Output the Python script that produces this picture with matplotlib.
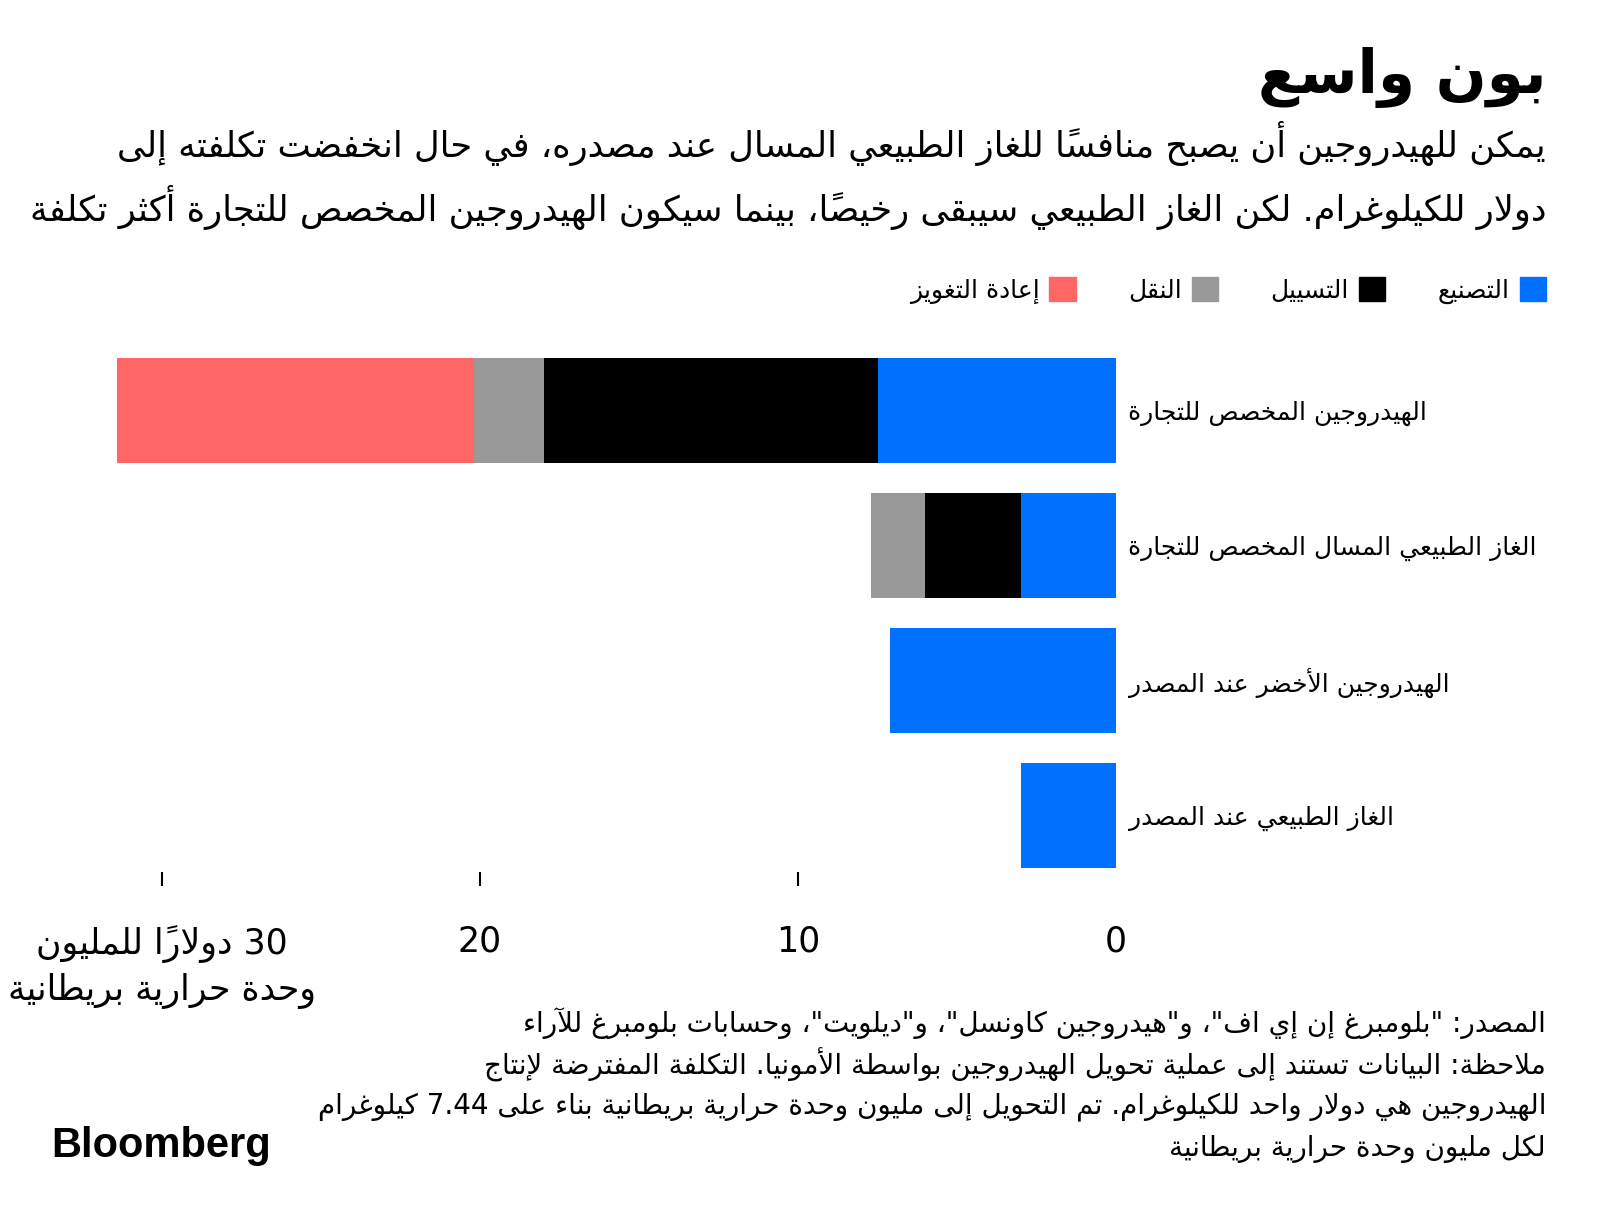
import re
import matplotlib
matplotlib.use('Agg')
import matplotlib.pyplot as plt
from matplotlib.patches import Patch

# --- data -------------------------------------------------------------
title = 'بون واسع'
subtitle = [
    'يمكن للهيدروجين أن يصبح منافساً للغاز الطبيعي المسال عند مصدره، في حال انخفضت تكلفته إلى',
    'دولار للكيلوغرام. لكن الغاز الطبيعي سيبقى رخيصاً، بينما سيكون الهيدروجين المخصص للتجارة أكثر تكلفة',
]
categories = [
    'الهيدروجين المخصص للتجارة',
    'الغاز الطبيعي المسال المخصص للتجارة',
    'الهيدروجين الأخضر عند المصدر',
    'الغاز الطبيعي عند المصدر',
]
stages = ['التصنيع', 'التسييل', 'النقل', 'إعادة التغويز']
production = [7.5, 3.0, 7.1, 3.0]
liquefaction = [10.5, 3.0, 0, 0]
shipping = [2.2, 1.7, 0, 0]
regasification = [11.2, 0, 0, 0]
stage_colors = ['#0070FF', '#000000', '#999999', '#FF6666']

tick_values = [0, 10, 20, 30]
tick_labels = ['0', '10', '20', ['30 دولاراً للمليون', 'وحدة حرارية بريطانية']]

footnote = [
    'المصدر: "بلومبرغ إن إي اف"، و"هيدروجين كاونسل"، و"ديلويت"، وحسابات بلومبرغ للآراء',
    'ملاحظة: البيانات تستند إلى عملية تحويل الهيدروجين بواسطة الأمونيا. التكلفة المفترضة لإنتاج',
    'الهيدروجين هي دولار واحد للكيلوغرام. تم التحويل إلى مليون وحدة حرارية بريطانية بناء على 7.44 كيلوغرام',
    'لكل مليون وحدة حرارية بريطانية',
]

# --- arabic shaping (matplotlib has no text shaping / bidi) -------------
# isolated presentation form and number of forms for each letter
FORMS = {
    '\u0621': (0xFE80, 1), '\u0622': (0xFE81, 2), '\u0623': (0xFE83, 2),
    '\u0624': (0xFE85, 2), '\u0625': (0xFE87, 2), '\u0626': (0xFE89, 4),
    '\u0627': (0xFE8D, 2), '\u0628': (0xFE8F, 4), '\u0629': (0xFE93, 2),
    '\u062A': (0xFE95, 4), '\u062B': (0xFE99, 4), '\u062C': (0xFE9D, 4),
    '\u062D': (0xFEA1, 4), '\u062E': (0xFEA5, 4), '\u062F': (0xFEA9, 2),
    '\u0630': (0xFEAB, 2), '\u0631': (0xFEAD, 2), '\u0632': (0xFEAF, 2),
    '\u0633': (0xFEB1, 4), '\u0634': (0xFEB5, 4), '\u0635': (0xFEB9, 4),
    '\u0636': (0xFEBD, 4), '\u0637': (0xFEC1, 4), '\u0638': (0xFEC5, 4),
    '\u0639': (0xFEC9, 4), '\u063A': (0xFECD, 4), '\u0641': (0xFED1, 4),
    '\u0642': (0xFED5, 4), '\u0643': (0xFED9, 4), '\u0644': (0xFEDD, 4),
    '\u0645': (0xFEE1, 4), '\u0646': (0xFEE5, 4), '\u0647': (0xFEE9, 4),
    '\u0648': (0xFEED, 2), '\u0649': (0xFEEF, 2), '\u064A': (0xFEF1, 4),
}
LAM_ALEF = {'\u0622': 0xFEF5, '\u0623': 0xFEF7, '\u0625': 0xFEF9, '\u0627': 0xFEFB}
LTR_RUN = r'[0-9A-Za-z]+(?:\.[0-9]+)?'


def is_mark(c):
    return '\u064B' <= c <= '\u0652' or c == '\u0670'


def shape(text):
    units = []
    i = 0
    while i < len(text):
        c = text[i]
        if c == '\u0644' and i + 1 < len(text) and text[i + 1] in LAM_ALEF:
            units.append((LAM_ALEF[text[i + 1]], 2))
            i += 2
            continue
        units.append(FORMS.get(c, c))
        i += 1
    res = []
    for k, u in enumerate(units):
        if not isinstance(u, tuple):
            res.append(u)
            continue
        base, n = u
        p = k - 1
        while p >= 0 and isinstance(units[p], str) and is_mark(units[p]):
            p -= 1
        q = k + 1
        while q < len(units) and isinstance(units[q], str) and is_mark(units[q]):
            q += 1
        jp = n > 1 and p >= 0 and isinstance(units[p], tuple) and units[p][1] == 4
        jn = n == 4 and q < len(units) and isinstance(units[q], tuple) and units[q][1] > 1
        if jp and jn:
            code = base + 3
        elif jp:
            code = base + 1
        elif jn:
            code = base + 2
        else:
            code = base
        res.append(chr(code))
    return ''.join(res)


def ar(text):
    # shape, then reorder right-to-left while keeping numbers left-to-right
    s = shape(text)
    out = []
    for part in reversed(re.split('(' + LTR_RUN + ')', s)):
        if re.fullmatch(LTR_RUN, part):
            out.append(part)
            continue
        clusters = []
        for ch in part:
            if is_mark(ch) and clusters:
                clusters[-1] += ch
            else:
                clusters.append(ch)
        out.append(''.join(reversed(clusters)))
    return ''.join(out)


def ar_lines(lines):
    if isinstance(lines, str):
        return ar(lines)
    return '\n'.join(ar(l) for l in lines)


# --- figure -------------------------------------------------------------
plt.rcParams['font.family'] = ['DejaVu Sans']
W, H = 1600, 1224
fig = plt.figure(figsize=(W / 100, H / 100), dpi=100)

zero_px = 1116
scale = 31.8          # pixels per unit
xmax = 32
left_px = zero_px - xmax * scale
ax = fig.add_axes([left_px / W, 1 - 872 / H, (zero_px - left_px) / W, (872 - 340) / H])

series = [production, liquefaction, shipping, regasification]
ypos = list(range(len(categories)))
lefts = [0] * len(categories)
for vals, col in zip(series, stage_colors):
    ax.barh(ypos, vals, left=lefts, height=0.78, color=col)
    lefts = [a + b for a, b in zip(lefts, vals)]

ax.set_xlim(xmax, 0)
ax.set_ylim(3.42, -0.52)
for s in ax.spines.values():
    s.set_visible(False)

ax.set_xticks(tick_values)
ax.set_xticklabels([ar_lines(t) for t in tick_labels], fontsize=25)
for lab in ax.get_xticklabels():
    lab.set_linespacing(1.4)
ax.tick_params(axis='x', length=10, width=1.5, pad=28, colors='black')
ax.xaxis.get_major_ticks()[0].tick1line.set_visible(False)

ax.yaxis.tick_right()
ax.set_yticks(ypos)
ax.set_yticklabels([ar(c) for c in categories], fontsize=18)
ax.tick_params(axis='y', length=0, pad=9)

# legend (right-to-left: swatch to the right of the text)
handles = [Patch(color=c, label=ar(s)) for s, c in zip(stages, stage_colors)]
fig.legend(handles[::-1], [h.get_label() for h in handles[::-1]],
           loc='upper right', bbox_to_anchor=(1546 / W, 1 - 277 / H),
           ncol=4, frameon=False, markerfirst=False, fontsize=18,
           handlelength=1.05, handleheight=1.1, handletextpad=0.4,
           columnspacing=2.1, borderpad=0, borderaxespad=0)

fig.text(1546 / W, 1 - 77 / H, ar(title), ha='right', va='center',
         fontsize=43, fontweight='bold')
fig.text(1546 / W, 1 - 143 / H, ar(subtitle[0]), ha='right', va='center', fontsize=25.4)
fig.text(1546 / W, 1 - 207 / H, ar(subtitle[1]), ha='right', va='center', fontsize=25.4)

for i, line in enumerate(footnote):
    fig.text(1546 / W, 1 - (1023 + i * 42) / H, ar(line), ha='right', va='center', fontsize=20)

fig.text(51 / W, 1 - 1146 / H, 'Bloomberg', ha='left', va='center',
         fontsize=30, fontweight='bold', family='Liberation Sans')

fig.savefig('out.png', dpi=100, facecolor='white')
